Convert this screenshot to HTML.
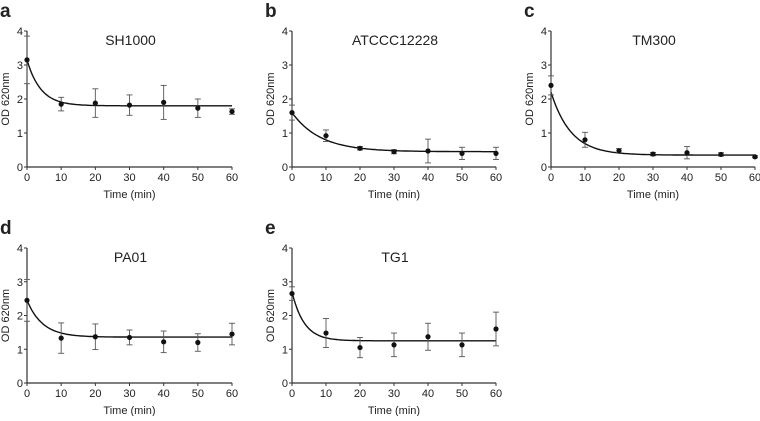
<!DOCTYPE html>
<html><head><meta charset="utf-8"><style>
body{margin:0;background:#fff;width:760px;height:416px;overflow:hidden}
svg text{font-family:"Liberation Sans",Arial,sans-serif;fill:#222}
</style></head><body>
<svg id="fig" width="760" height="416" xmlns="http://www.w3.org/2000/svg"></svg>
<script>
const times=[0,10,20,30,40,50,60];
const xTicks=[0,10,20,30,40,50,60];
const yTicks=[0,1,2,3,4];
const titles=["SH1000","ATCCC12228","TM300","PA01","TG1"];
const letters=["a","b","c","d","e"];
const meanA=[3.15,1.85,1.88,1.82,1.9,1.73,1.63];
const errA=[0.7,0.2,0.42,0.3,0.5,0.27,0.08];
const meanB=[1.6,0.92,0.55,0.45,0.47,0.4,0.4];
const errB=[0.22,0.17,0.05,0.06,0.35,0.18,0.18];
const meanC=[2.4,0.8,0.48,0.38,0.42,0.37,0.3];
const errC=[0.28,0.22,0.06,0.05,0.18,0.05,0.03];
const meanD=[2.45,1.33,1.37,1.35,1.22,1.2,1.45];
const errD=[0.62,0.45,0.38,0.22,0.32,0.26,0.32];
const meanE=[2.65,1.48,1.05,1.13,1.37,1.13,1.6];
const errE=[0.2,0.43,0.3,0.35,0.4,0.35,0.5];
const fitPlateau=[1.8,0.45,0.35,1.36,1.25];
const fitStart=[3.15,1.6,2.2,2.45,2.7];
const fitRate=[0.25,0.12,0.17,0.22,0.28];
const means=[meanA,meanB,meanC,meanD,meanE];
const errs=[errA,errB,errC,errD,errE];
const layout=[{x0:27,x1:232,y0:167,y1:31},{x0:292,x1:496,y0:167,y1:31},{x0:551,x1:755,y0:167,y1:31},
{x0:27,x1:232,y0:383,y1:248},{x0:292,x1:496,y0:383,y1:248}];
const NS="http://www.w3.org/2000/svg";
const svg=document.getElementById('fig');
function mk(t,a,p){const e=document.createElementNS(NS,t);for(const k in a)e.setAttribute(k,a[k]);(p||svg).appendChild(e);return e;}
layout.forEach((L,i)=>{
  const g=mk('g',{});
  
  
  const xs=v=>L.x0+(L.x1-L.x0)*v/60, ys=v=>L.y0+(L.y1-L.y0)*v/4;
  const lt=mk('text',{x:L.x0-27,y:L.y1-14,'font-size':19,'font-weight':'bold'},g);lt.textContent=letters[i];
  
  
  const tt=mk('text',{x:(L.x0+L.x1)/2+1,y:L.y1+14,'font-size':14,'text-anchor':'middle'},g);tt.textContent=titles[i];
  
  
  const ax=mk('g',{},g);
  
  
  mk('line',{x1:L.x0,y1:L.y1,x2:L.x0,y2:L.y0,stroke:'#333','stroke-width':1.2},ax);
  mk('line',{x1:L.x0,y1:L.y0,x2:L.x1,y2:L.y0,stroke:'#333','stroke-width':1.2},ax);
  yTicks.forEach(v=>{mk('line',{x1:L.x0-3,x2:L.x0,y1:ys(v),y2:ys(v),stroke:'#333'},ax);
    const t=mk('text',{x:L.x0-4,y:ys(v)+4,'font-size':11,'text-anchor':'end'},ax);t.textContent=v;});
  xTicks.forEach(v=>{mk('line',{x1:xs(v),x2:xs(v),y1:L.y0,y2:L.y0+3,stroke:'#333'},ax);
    const t=mk('text',{x:xs(v),y:L.y0+14,'font-size':11,'text-anchor':'middle'},ax);t.textContent=v;});
  const xl=mk('text',{x:(L.x0+L.x1)/2,y:L.y0+31,'font-size':11,'text-anchor':'middle'},ax);xl.textContent='Time (min)';
  
  const yy=(L.y0+L.y1)/2;
  const yl=mk('text',{x:L.x0-18,y:yy,'font-size':11,'text-anchor':'middle',transform:`rotate(-90 ${L.x0-18} ${yy})`},ax);yl.textContent='OD 620nm';
  
  let d='';
  for(let t=0;t<=60;t+=0.5){const v=fitPlateau[i]+(fitStart[i]-fitPlateau[i])*Math.exp(-fitRate[i]*t);d+=(t?'L':'M')+xs(t).toFixed(1)+','+ys(v).toFixed(1);}
  const fit=mk('path',{d:d,fill:'none',stroke:'#111','stroke-width':1.4},g);
  
  
  times.forEach((t,j)=>{
    const m=means[i][j],e=errs[i][j],x=xs(t);
    const eb=mk('g',{stroke:'#555','stroke-width':0.9},g);
    
    
    mk('line',{x1:x,x2:x,y1:ys(m-e),y2:ys(m+e)},eb);
    mk('line',{x1:x-3,x2:x+3,y1:ys(m-e),y2:ys(m-e)},eb);
    mk('line',{x1:x-3,x2:x+3,y1:ys(m+e),y2:ys(m+e)},eb);
    const c=mk('circle',{cx:x,cy:ys(m),r:2.6,fill:'#111'},g);
    
    
  });
});
</script>
</body></html>
